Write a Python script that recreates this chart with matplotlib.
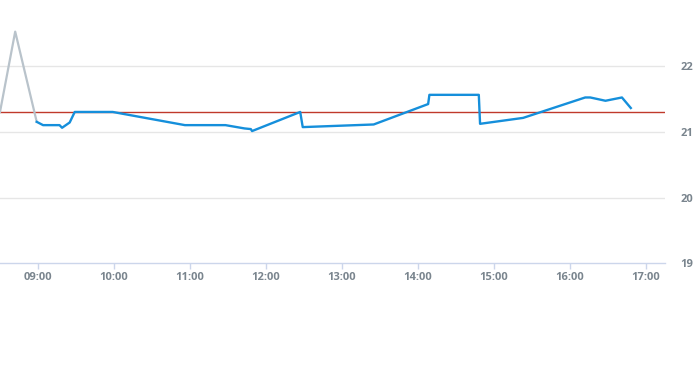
import matplotlib.pyplot as plt
from matplotlib.ticker import FixedLocator

plt.rcParams['font.family'] = ['Open Sans', 'DejaVu Sans']

# grey part of the series (before the blue segment)
grey_times = ["08:30", "08:42", "08:59"]
grey_values = [21.3, 22.52, 21.15]

# blue series
blue_times = ["08:59", "09:04", "09:17", "09:19", "09:25", "09:29", "09:59",
              "10:56", "11:28", "11:43", "11:48", "11:49", "12:27", "12:29",
              "13:25", "14:08", "14:09", "14:48", "14:49", "15:23", "16:12",
              "16:16", "16:28", "16:41", "16:48"]
blue_values = [21.15, 21.1, 21.1, 21.06, 21.14, 21.3, 21.3,
               21.1, 21.1, 21.05, 21.04, 21.01, 21.3, 21.07,
               21.11, 21.42, 21.56, 21.56, 21.12, 21.21, 21.52,
               21.52, 21.47, 21.52, 21.36]

ref_value = 21.3  # red reference line
x_ticks = ["09:00", "10:00", "11:00", "12:00", "13:00", "14:00", "15:00", "16:00", "17:00"]
y_ticks = [19, 20, 21, 22]


def hours(s):
    h, m = s.split(":")
    return int(h) + int(m) / 60.0


fig = plt.figure(figsize=(6.95, 3.7), dpi=100)
ax = fig.add_axes([0.0, 0.288, 665 / 695, 0.712])

ax.plot([hours(t) for t in grey_times], grey_values, color='#b9c3cb', lw=1.6, zorder=3)
ax.plot([hours(t) for t in blue_times], blue_values, color='#158fdb', lw=1.7, zorder=4,
        solid_joinstyle='round')
ax.axhline(ref_value, color='#c0392b', lw=1.0, zorder=2)

ax.set_xlim(8.5, 8.5 + 665 / 76)
ax.set_ylim(19, 23)

ax.set_xticks([hours(t) for t in x_ticks])
ax.set_xticklabels(x_ticks)
ax.yaxis.set_major_locator(FixedLocator(y_ticks))
ax.set_yticklabels([str(v) for v in y_ticks])
ax.yaxis.tick_right()

for v in y_ticks[1:]:
    ax.axhline(v, color='#e6e6e6', lw=1.0, zorder=1)

for s in ['top', 'left', 'right']:
    ax.spines[s].set_visible(False)
ax.spines['bottom'].set_color('#ccd6eb')
ax.spines['bottom'].set_linewidth(1.0)

ax.tick_params(axis='x', colors='#ccd6eb', length=4, width=1, pad=2,
               labelcolor='#7a858e', labelsize=8)
ax.tick_params(axis='y', length=0, pad=11, labelcolor='#7a858e', labelsize=8)
for lab in ax.get_xticklabels() + ax.get_yticklabels():
    lab.set_fontweight('bold')

fig.savefig('out.png', dpi=100)
